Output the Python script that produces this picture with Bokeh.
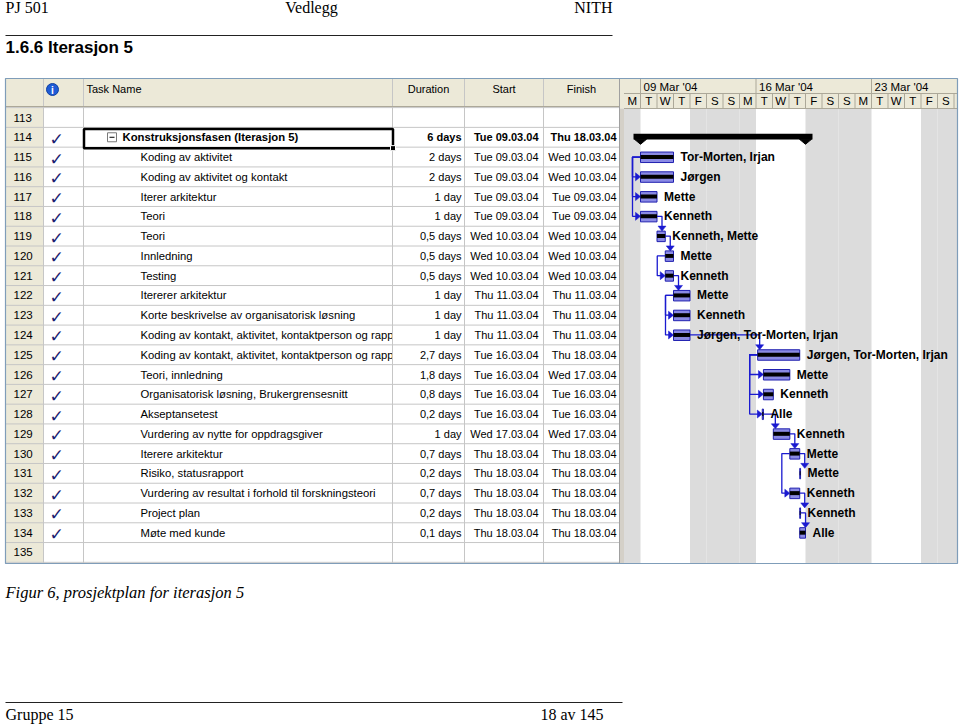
from bokeh.plotting import figure
from bokeh.models import Range1d
from bokeh.core.properties import value
from bokeh.embed import file_html
from bokeh.resources import INLINE

# ------------------------------------------------------------------ data
page_header = ["PJ 501", "Vedlegg", "NITH"]
section_title = "1.6.6 Iterasjon 5"
caption = "Figur 6, prosjektplan for iterasjon 5"
footer_left = "Gruppe 15"
footer_right = "18 av 145"

column_titles = ["Task Name", "Duration", "Start", "Finish"]
row_ids = list(range(113, 136))
task_ids = list(range(114, 135))
task_names = [
    "Konstruksjonsfasen (Iterasjon 5)",
    "Koding av aktivitet",
    "Koding av aktivitet og kontakt",
    "Iterer arkitektur",
    "Teori",
    "Teori",
    "Innledning",
    "Testing",
    "Itererer arkitektur",
    "Korte beskrivelse av organisatorisk løsning",
    "Koding av kontakt, aktivitet, kontaktperson og rapp",
    "Koding av kontakt, aktivitet, kontaktperson og rapp",
    "Teori, innledning",
    "Organisatorisk løsning, Brukergrensesnitt",
    "Akseptansetest",
    "Vurdering av nytte for oppdragsgiver",
    "Iterere arkitektur",
    "Risiko, statusrapport",
    "Vurdering av resultat i forhold til forskningsteori",
    "Project plan",
    "Møte med kunde",
]
durations = ["6 days", "2 days", "2 days", "1 day", "1 day", "0,5 days", "0,5 days",
             "0,5 days", "1 day", "1 day", "1 day", "2,7 days", "1,8 days", "0,8 days",
             "0,2 days", "1 day", "0,7 days", "0,2 days", "0,7 days", "0,2 days", "0,1 days"]
starts = ["Tue 09.03.04", "Tue 09.03.04", "Tue 09.03.04", "Tue 09.03.04", "Tue 09.03.04",
          "Wed 10.03.04", "Wed 10.03.04", "Wed 10.03.04", "Thu 11.03.04", "Thu 11.03.04",
          "Thu 11.03.04", "Tue 16.03.04", "Tue 16.03.04", "Tue 16.03.04", "Tue 16.03.04",
          "Wed 17.03.04", "Thu 18.03.04", "Thu 18.03.04", "Thu 18.03.04", "Thu 18.03.04",
          "Thu 18.03.04"]
finishes = ["Thu 18.03.04", "Wed 10.03.04", "Wed 10.03.04", "Tue 09.03.04", "Tue 09.03.04",
            "Wed 10.03.04", "Wed 10.03.04", "Wed 10.03.04", "Thu 11.03.04", "Thu 11.03.04",
            "Thu 11.03.04", "Thu 18.03.04", "Wed 17.03.04", "Tue 16.03.04", "Tue 16.03.04",
            "Wed 17.03.04", "Thu 18.03.04", "Thu 18.03.04", "Thu 18.03.04", "Thu 18.03.04",
            "Thu 18.03.04"]
resources = ["", "Tor-Morten, Irjan", "Jørgen", "Mette", "Kenneth", "Kenneth, Mette",
             "Mette", "Kenneth", "Mette", "Kenneth", "Jørgen, Tor-Morten, Irjan",
             "Jørgen, Tor-Morten, Irjan", "Mette", "Kenneth", "Alle", "Kenneth", "Mette",
             "Mette", "Kenneth", "Kenneth", "Alle"]
# bar extent in days counted from Mon 08.03.04 00:00
bar_start = [1.0, 1.0, 1.0, 1.0, 1.0, 2.0, 2.5, 2.5, 3.0, 3.0, 3.0,
             8.1, 8.45, 8.45, 8.38, 9.05, 10.05, 10.65, 10.05, 10.65, 10.65]
bar_end = [11.0, 3.0, 3.0, 2.0, 2.0, 2.5, 3.0, 3.0, 4.0, 4.0, 4.0,
           10.65, 10.05, 9.05, 8.45, 10.05, 10.65, 10.7, 10.65, 10.7, 11.0]
summary_tasks = [114]
links_ss = [(115, 116), (115, 117), (115, 118), (120, 121), (122, 123), (122, 124),
            (125, 126), (125, 127), (125, 128), (130, 132)]
links_fs = [(118, 119), (119, 120), (121, 122), (124, 125), (128, 129), (129, 130),
            (130, 131), (132, 133), (133, 134)]

week_labels = ["09 Mar '04", "16 Mar '04", "23 Mar '04"]
week_start_day = [1, 8, 15]
day_letters = ["M", "T", "W", "T", "F", "S", "S", "M", "T", "W", "T", "F", "S", "S",
               "M", "T", "W", "T", "F", "S"]
nonworking_letters = ["M", "F", "S"]

# ------------------------------------------------------------------ layout / style
W, H = 960, 725
XMAX, YMAX = 960.0, 725.0
X0, DW = 623.5, 16.5          # timescale origin (px) and px per day
Y0, RH = 117.0, 19.77         # first row centre (px) and row height
GANTT_R = 957.0
TBL_L, TBL_R = 5.0, 619.0
HDR_T, HDR_B, GHDR_B, TIER = 78.0, 106.0, 108.0, 93.0
BODY_B = 563.0
col_edges = [43, 83, 392, 464, 543]

SANS = value("Liberation Sans")
SERIF = value("Liberation Serif")
BEIGE = "#ECE9D8"
GRID = "#C6C6C6"
BLUE = "#1A1AD0"

p = figure(width=W, height=H, x_range=Range1d(0, XMAX), y_range=Range1d(YMAX, 0),
           output_backend="svg", toolbar_location=None,
           x_axis_location=None, y_axis_location=None, min_border=0,
           outline_line_color=None, background_fill_color="white",
           border_fill_color="white")
p.xgrid.visible = False
p.ygrid.visible = False
p.extra_x_ranges = {"days": Range1d((0 - X0) / DW, (XMAX - X0) / DW)}
p.extra_y_ranges = {"rows": Range1d((YMAX - Y0) / RH, (0 - Y0) / RH)}

def row(tid):
    return tid - row_ids[0]

def dx(px):
    return px / DW

def dy(px):
    return px / RH

n_rows = len(row_ids)
first_top = -0.5
last_bot = n_rows - 0.5

# ------------------------------------------------------------------ page header
p.text(x=[5], y=[7], text=[page_header[0]], text_font=SERIF, text_font_size="16px",
       text_baseline="middle", text_align="left", text_color="black")
p.text(x=[311], y=[7], text=[page_header[1]], text_font=SERIF, text_font_size="16px",
       text_baseline="middle", text_align="center", text_color="black")
p.text(x=[612], y=[7], text=[page_header[2]], text_font=SERIF, text_font_size="16px",
       text_baseline="middle", text_align="right", text_color="black")
p.segment(x0=[5], y0=[35], x1=[612], y1=[35], line_color="#222222", line_width=1.2)
p.text(x=[5], y=[46.5], text=[section_title], text_font=SANS, text_font_size="17px",
       text_font_style="bold", text_baseline="middle", text_align="left", text_color="black")

# ------------------------------------------------------------------ backgrounds
p.quad(left=[TBL_L], right=[TBL_R], top=[HDR_T], bottom=[HDR_B], fill_color=BEIGE, line_color=None)
p.quad(left=[TBL_R], right=[GANTT_R], top=[HDR_T], bottom=[GHDR_B], fill_color=BEIGE, line_color=None)
p.quad(left=[TBL_L], right=[col_edges[0]], top=[first_top], bottom=[last_bot],
       fill_color=BEIGE, line_color=None, y_range_name="rows")
p.quad(left=[TBL_R], right=[X0], top=[GHDR_B], bottom=[BODY_B], fill_color="#D4D0C8", line_color=None)

# non-working time shading
nw_left, nw_right = [], []
for d, letter in enumerate(day_letters):
    if letter in nonworking_letters:
        nw_left.append(d)
        nw_right.append(d + 1 if d < len(day_letters) - 1 else (GANTT_R - X0) / DW)
p.quad(left=nw_left, right=nw_right, top=GHDR_B, bottom=BODY_B, fill_color="#DCDCDC",
       line_color=None, x_range_name="days")

# ------------------------------------------------------------------ table body text
sub_rows = [row(t) for t in task_ids[1:]]
p.text(x=[140] * len(sub_rows), y=sub_rows, text=task_names[1:], text_font=SANS,
       text_font_size="11.3px", text_baseline="middle", text_align="left",
       text_color="black", y_range_name="rows")
p.text(x=[122], y=[row(task_ids[0])], text=[task_names[0]], text_font=SANS,
       text_font_size="11.3px", text_font_style="bold", text_baseline="middle",
       text_align="left", text_color="black", y_range_name="rows")
# clip overflowing names at the Duration column
p.quad(left=[col_edges[2]], right=[TBL_R], top=[first_top], bottom=[last_bot],
       fill_color="white", line_color=None, y_range_name="rows")

# grid lines
hy = [k - 0.5 for k in range(n_rows + 1)]
p.segment(x0=[TBL_L] * len(hy), y0=hy, x1=[TBL_R] * len(hy), y1=hy, line_color=GRID,
          line_width=1, y_range_name="rows")
p.segment(x0=col_edges, y0=[HDR_T] * len(col_edges), x1=col_edges, y1=[BODY_B] * len(col_edges),
          line_color=GRID, line_width=1)
p.segment(x0=[TBL_L], y0=[HDR_B], x1=[TBL_R], y1=[HDR_B], line_color="#ACA899")
p.segment(x0=[TBL_R], y0=[HDR_T], x1=[TBL_R], y1=[BODY_B], line_color="#A0A0A0")

# header texts
p.text(x=[86], y=[88], text=[column_titles[0]], text_font=SANS, text_font_size="11px",
       text_baseline="middle", text_align="left", text_color="black")
hdr_centres = [(col_edges[2] + col_edges[3]) / 2, (col_edges[3] + col_edges[4]) / 2,
               (col_edges[4] + TBL_R) / 2]
p.text(x=hdr_centres, y=[88] * 3, text=column_titles[1:], text_font=SANS,
       text_font_size="11px", text_baseline="middle", text_align="center", text_color="black")
# info icon
p.scatter(x=[52], y=[89], marker="circle", size=12, fill_color="#1E5BD6", line_color="#1040A0")
p.text(x=[52], y=[89.5], text=["i"], text_font=SANS, text_font_size="10px",
       text_font_style="bold", text_baseline="middle", text_align="center", text_color="white")

# ids
all_rows = [row(r) for r in row_ids]
p.text(x=[13] * n_rows, y=all_rows, text=[str(r) for r in row_ids], text_font=SANS,
       text_font_size="11.5px", text_baseline="middle", text_align="left",
       text_color="black", y_range_name="rows")
# completed check marks
task_rows = [row(t) for t in task_ids]
p.text(x=[56] * len(task_rows), y=[r + dy(1.5) for r in task_rows], text=["✓"] * len(task_rows),
       text_font=value("DejaVu Sans"), text_font_size="17px", text_baseline="middle",
       text_align="center", text_color="#1C1C70", y_range_name="rows")

# duration / start / finish
for col_vals, x_right in ((durations, 461), (starts, 538), (finishes, 616)):
    p.text(x=[x_right] * (len(task_rows) - 1), y=task_rows[1:], text=col_vals[1:],
           text_font=SANS, text_font_size="11px", text_baseline="middle",
           text_align="right", text_color="black", y_range_name="rows")
    p.text(x=[x_right], y=[task_rows[0]], text=[col_vals[0]], text_font=SANS,
           text_font_size="11px", text_font_style="bold", text_baseline="middle",
           text_align="right", text_color="black", y_range_name="rows")

# outline box (collapse) and cell selection on summary row
sr = row(summary_tasks[0])
p.quad(left=[107], right=[116], top=[sr - dy(4.5)], bottom=[sr + dy(4.5)],
       fill_color="white", line_color="#7A7A7A", y_range_name="rows")
p.segment(x0=[109], y0=[sr], x1=[114], y1=[sr], line_color="black", line_width=1,
          y_range_name="rows")
p.quad(left=[83.5], right=[392.5], top=[sr - 0.42], bottom=[sr + 0.55], fill_color=None,
       line_color="black", line_width=2.5, y_range_name="rows")
p.scatter(x=[392.5], y=[sr + 0.55], marker="square", size=5, fill_color="black",
          line_color="white", y_range_name="rows")

# ------------------------------------------------------------------ gantt header
p.segment(x0=[0], y0=[TIER], x1=[(GANTT_R - X0) / DW], y1=[TIER], line_color="#ACA899",
          x_range_name="days")
p.segment(x0=[0], y0=[GHDR_B], x1=[(GANTT_R - X0) / DW], y1=[GHDR_B], line_color="#ACA899",
          x_range_name="days")
p.segment(x0=week_start_day, y0=[HDR_T] * 3, x1=week_start_day, y1=[TIER] * 3,
          line_color="#ACA899", x_range_name="days")
dsep = list(range(1, len(day_letters) + 1))
p.segment(x0=dsep, y0=[TIER] * len(dsep), x1=dsep, y1=[GHDR_B] * len(dsep),
          line_color="#ACA899", x_range_name="days")
p.text(x=[d + dx(3) for d in week_start_day], y=[86.5] * 3, text=week_labels,
       text_font=SANS, text_font_size="11.5px", text_baseline="middle", text_align="left",
       text_color="black", x_range_name="days")
p.text(x=[d + 0.5 for d in range(len(day_letters))], y=[100.5] * len(day_letters),
       text=day_letters, text_font=SANS, text_font_size="11.5px", text_baseline="middle",
       text_align="center", text_color="black", x_range_name="days")

# ------------------------------------------------------------------ links
idx = {t: i for i, t in enumerate(task_ids)}
lxs, lys, axs, ays = [], [], [], []
for a, b in links_fs:
    ia, ib = idx[a], idx[b]
    ra, rb = row(a), row(b)
    xe = bar_end[ia]
    xt = max(xe + dx(5), bar_start[ib] + dx(2))
    tip = rb - dy(5)
    lxs.append([xe, xt, xt]); lys.append([ra, ra, tip - dy(4)])
    axs.append([xt - dx(4), xt + dx(4), xt]); ays.append([tip - dy(5), tip - dy(5), tip])
for a, b in links_ss:
    ia, ib = idx[a], idx[b]
    ra, rb = row(a), row(b)
    xs0 = bar_start[ia]
    xv = xs0 - dx(8)
    xb = bar_start[ib]
    lxs.append([xs0, xv, xv, xb - dx(4)]); lys.append([ra, ra, rb, rb])
    axs.append([xb - dx(5), xb - dx(5), xb]); ays.append([rb - dy(4), rb + dy(4), rb])
p.multi_line(xs=lxs, ys=lys, line_color=BLUE, line_width=1.3,
             x_range_name="days", y_range_name="rows")
p.patches(xs=axs, ys=ays, fill_color=BLUE, line_color=BLUE, line_width=0.5,
          x_range_name="days", y_range_name="rows")

# ------------------------------------------------------------------ bars
tb = [i for i, t in enumerate(task_ids) if t not in summary_tasks]
tl = [bar_start[i] for i in tb]
tr = [bar_end[i] for i in tb]
trw = [row(task_ids[i]) for i in tb]
p.quad(left=tl, right=tr, top=[r - dy(5) for r in trw], bottom=[r + dy(5.5) for r in trw],
       fill_color="#8A8AE4", line_color="#2020B0", line_width=1,
       x_range_name="days", y_range_name="rows")
p.quad(left=tl, right=tr, top=[r - dy(2) for r in trw], bottom=[r + dy(2) for r in trw],
       fill_color="black", line_color=None, x_range_name="days", y_range_name="rows")

for t in summary_tasks:
    i = idx[t]
    r = row(t)
    s, e = bar_start[i], bar_end[i]
    p.quad(left=[s - dx(7)], right=[e + dx(7)], top=[r - dy(3.5)], bottom=[r + dy(2.2)],
           fill_color="black", line_color=None, x_range_name="days", y_range_name="rows")
    p.patches(xs=[[s - dx(6), s + dx(6), s], [e - dx(6), e + dx(6), e]],
              ys=[[r + dy(2), r + dy(2), r + dy(7)], [r + dy(2), r + dy(2), r + dy(7)]],
              fill_color="black", line_color="black", x_range_name="days", y_range_name="rows")

# resource labels
ri = [i for i, t in enumerate(task_ids) if resources[i]]
p.text(x=[bar_end[i] for i in ri], y=[row(task_ids[i]) for i in ri],
       text=[resources[i] for i in ri], x_offset=7, text_font=SANS, text_font_size="12px",
       text_font_style="bold", text_baseline="middle", text_align="left",
       text_color="black", x_range_name="days", y_range_name="rows")

# outer window border
p.quad(left=[TBL_L], right=[GANTT_R], top=[HDR_T], bottom=[BODY_B], fill_color=None,
       line_color="#7F9DB9", line_width=1.2)

# ------------------------------------------------------------------ caption and footer
p.text(x=[5], y=[592], text=[caption], text_font=SERIF, text_font_size="16.5px",
       text_font_style="italic", text_baseline="middle", text_align="left", text_color="black")
p.segment(x0=[5], y0=[702], x1=[622], y1=[702], line_color="#222222", line_width=1.2)
p.text(x=[5], y=[714], text=[footer_left], text_font=SERIF, text_font_size="16px",
       text_baseline="middle", text_align="left", text_color="black")
p.text(x=[603], y=[714], text=[footer_right], text_font=SERIF, text_font_size="16px",
       text_baseline="middle", text_align="right", text_color="black")

open("out.html", "w").write(file_html(p, INLINE))
